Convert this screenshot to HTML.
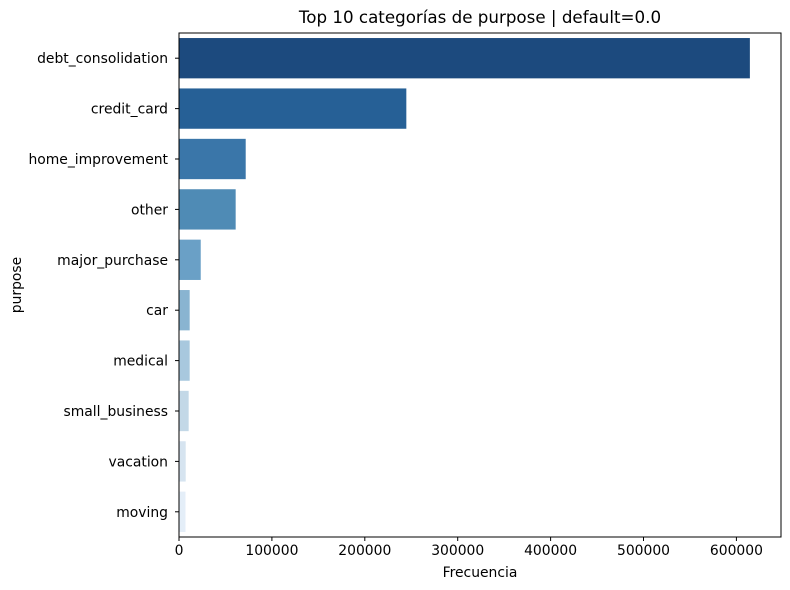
<!DOCTYPE html>
<html><head><meta charset="utf-8"><style>
body{margin:0;background:#fff;}
svg{display:block;font-family:"DejaVu Sans","Liberation Sans",sans-serif;}
</style></head><body>
<svg id="chart" width="790" height="590"></svg>
<script>
const categories=["debt_consolidation","credit_card","home_improvement","other","major_purchase","car","medical","small_business","vacation","moving"];
const values=[614500,244700,71800,61000,23400,11500,11500,10400,7200,7000];
const colors=["#1c4a7e","#266096","#3a76a9","#4f8bb5","#6aa0c6","#89b4d1","#a8c8de","#c3d8e7","#d6e4f0","#e4eef8"];
const xTicks=[0,100000,200000,300000,400000,500000,600000];
const L=179,T=33,R=781,B=537,xMax=648000;
const NS="http://www.w3.org/2000/svg";
const svg=document.getElementById('chart');
const xs=v=>L+v/xMax*(R-L);
const band=(B-T)/categories.length;
const yc=i=>T+band*(i+0.5);
function mk(t,a){const e=document.createElementNS(NS,t);for(const k in a)e.setAttribute(k,a[k]);svg.appendChild(e);return e;}
categories.forEach((c,i)=>{
  const r=mk('rect',{x:L,y:yc(i)-band*0.4,width:xs(values[i])-L,height:band*0.8,fill:colors[i]});
  
  
  const tk=mk('line',{x1:L-4,x2:L,y1:yc(i),y2:yc(i),stroke:'#000','stroke-width':1});
  
  
  const t=mk('text',{x:L-11,y:yc(i)+5,'text-anchor':'end','font-size':13.9,fill:'#000'});
  t.textContent=c;
  
  
});
xTicks.forEach(v=>{
  const tk=mk('line',{x1:xs(v),x2:xs(v),y1:B,y2:B+4,stroke:'#000','stroke-width':1});
  
  
  const t=mk('text',{x:xs(v),y:B+18,'text-anchor':'middle','font-size':13.9,fill:'#000'});
  t.textContent=String(v);
  
  
});
const fr=mk('rect',{x:L,y:T,width:R-L,height:B-T,fill:'none',stroke:'#000','stroke-width':1});


const ti=mk('text',{x:(L+R)/2,y:23,'text-anchor':'middle','font-size':16.7,fill:'#000'});
ti.textContent='Top 10 categorías de purpose | default=0.0';


const xl=mk('text',{x:(L+R)/2,y:577,'text-anchor':'middle','font-size':13.9,fill:'#000'});
xl.textContent='Frecuencia';


const yl=mk('text',{x:0,y:0,'text-anchor':'middle','font-size':13.9,fill:'#000',transform:'translate(21,'+((T+B)/2)+') rotate(-90)'});
yl.textContent='purpose';


</script>
</body></html>
